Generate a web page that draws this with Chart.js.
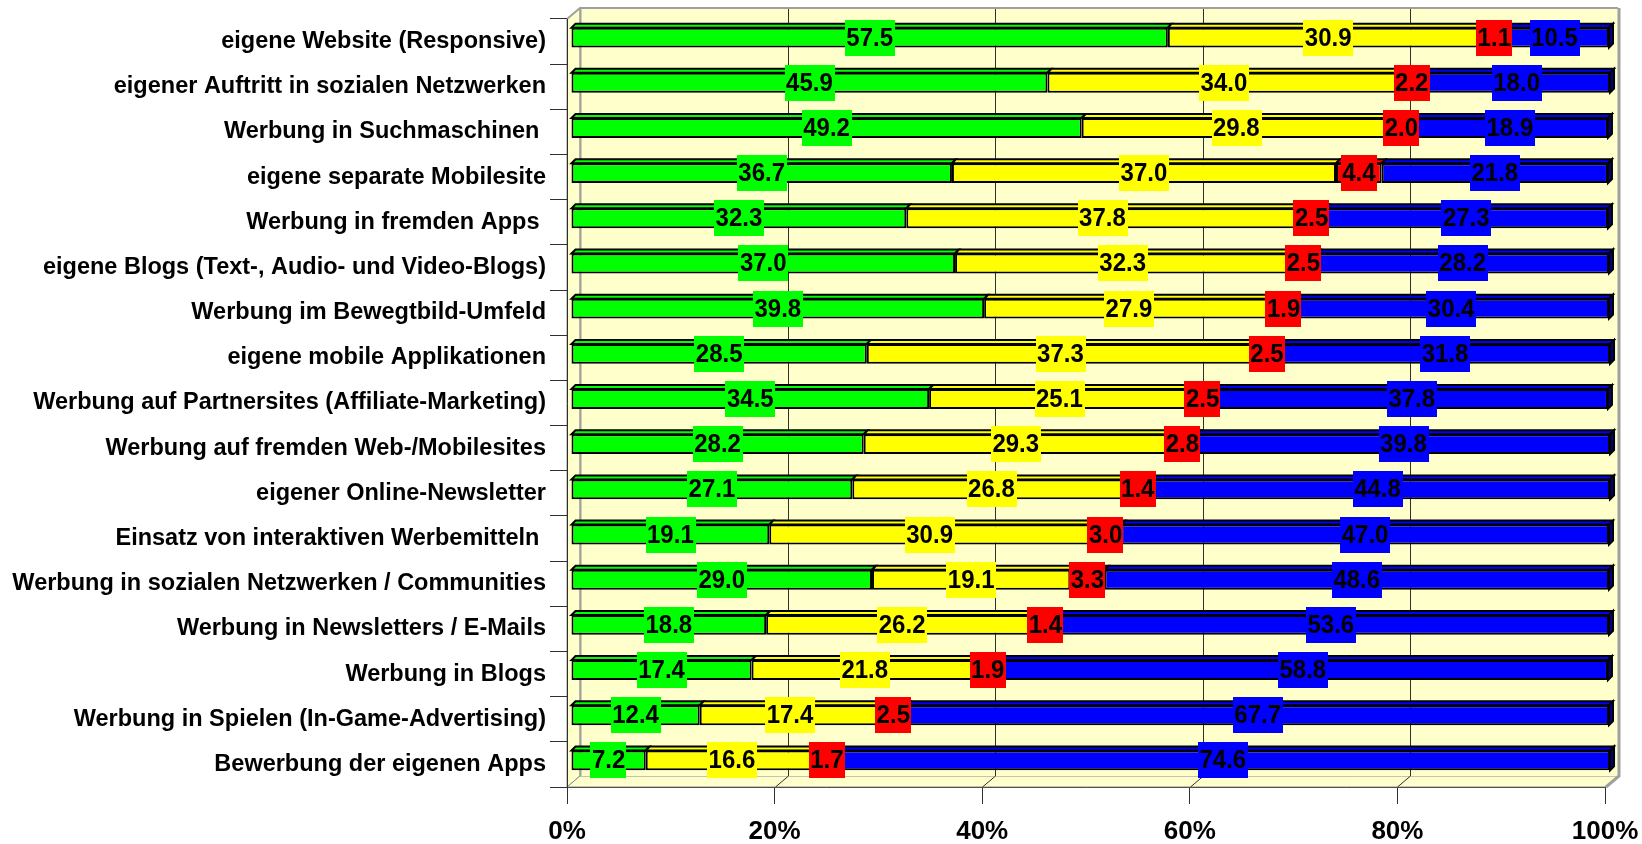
<!DOCTYPE html>
<html>
<head>
<meta charset="utf-8">
<script src="https://cdn.jsdelivr.net/npm/chart.js@4.4.1/dist/chart.umd.min.js"></script>
<style>
  html, body { margin: 0; background: #fff; }
  canvas { display: block; }
</style>
</head>
<body>
<canvas id="chart" width="1642" height="844"></canvas>
<script>
const categories = [
  "eigene Website (Responsive)",
  "eigener Auftritt in sozialen Netzwerken",
  "Werbung in Suchmaschinen ",
  "eigene separate Mobilesite",
  "Werbung in fremden Apps ",
  "eigene Blogs (Text-, Audio- und Video-Blogs)",
  "Werbung im Bewegtbild-Umfeld",
  "eigene mobile Applikationen",
  "Werbung auf Partnersites (Affiliate-Marketing)",
  "Werbung auf fremden Web-/Mobilesites",
  "eigener Online-Newsletter",
  "Einsatz von interaktiven Werbemitteln ",
  "Werbung in sozialen Netzwerken / Communities",
  "Werbung in Newsletters / E-Mails",
  "Werbung in Blogs",
  "Werbung in Spielen (In-Game-Advertising)",
  "Bewerbung der eigenen Apps",
];
const greenValues  = [57.5, 45.9, 49.2, 36.7, 32.3, 37.0, 39.8, 28.5, 34.5, 28.2, 27.1, 19.1, 29.0, 18.8, 17.4, 12.4, 7.2];
const yellowValues = [30.9, 34.0, 29.8, 37.0, 37.8, 32.3, 27.9, 37.3, 25.1, 29.3, 26.8, 30.9, 19.1, 26.2, 21.8, 17.4, 16.6];
const redValues    = [1.1, 2.2, 2.0, 4.4, 2.5, 2.5, 1.9, 2.5, 2.5, 2.8, 1.4, 3.0, 3.3, 1.4, 1.9, 2.5, 1.7];
const blueValues   = [10.5, 18.0, 18.9, 21.8, 27.3, 28.2, 30.4, 31.8, 37.8, 39.8, 44.8, 47.0, 48.6, 53.6, 58.8, 67.7, 74.6];
const xTickValues = [0, 20, 40, 60, 80, 100];
const xTickLabels = ["0%", "20%", "40%", "60%", "80%", "100%"];

const FONT = '"Liberation Sans", Arial, sans-serif';
const WALL_DX = 13, WALL_DY = 11;   // depth of the back wall
const BAR_D = 4;                     // bar offset / top face depth

function poly(ctx, pts) {
  ctx.beginPath();
  ctx.moveTo(pts[0][0], pts[0][1]);
  for (let i = 1; i < pts.length; i++) ctx.lineTo(pts[i][0], pts[i][1]);
  ctx.closePath();
}

// walls, floor and the grid on the back wall
const walls = {
  id: "walls",
  beforeDraw(chart) {
    const { ctx, chartArea: a, scales: { x } } = chart;
    const bl = a.left + WALL_DX, bt = a.top - WALL_DY, br = a.right + WALL_DX, bb = a.bottom - WALL_DY;
    ctx.save();
    ctx.fillStyle = "#ffffcc";
    ctx.strokeStyle = "#8c8c8c";
    ctx.lineWidth = 1;
    poly(ctx, [[a.left, a.top], [bl, bt], [bl, bb], [a.left, a.bottom]]);
    ctx.fill(); ctx.stroke();
    poly(ctx, [[a.left, a.bottom], [bl, bb], [br, bb], [a.right, a.bottom]]);
    ctx.fill(); ctx.stroke();
    ctx.fillRect(bl, bt, br - bl, bb - bt);

    ctx.strokeStyle = "#303030";
    xTickValues.slice(1, -1).forEach((v) => {
      const px = Math.round(x.getPixelForValue(v)) + 0.5;
      ctx.beginPath();
      ctx.moveTo(px + WALL_DX, bt);
      ctx.lineTo(px + WALL_DX, bb);
      ctx.lineTo(px, a.bottom);
      ctx.stroke();
    });

    ctx.strokeStyle = "#a0a0a0";
    ctx.lineWidth = 2;
    ctx.beginPath();
    ctx.moveTo(a.left, a.top); ctx.lineTo(bl, bt); ctx.lineTo(br, bt);
    ctx.stroke();
    ctx.beginPath();
    ctx.moveTo(bl + 0.5, bt); ctx.lineTo(bl + 0.5, bb);
    ctx.stroke();
    ctx.lineWidth = 3;
    ctx.beginPath();
    ctx.moveTo(br + 1, bt); ctx.lineTo(br + 1, bb); ctx.lineTo(a.right + 1, a.bottom);
    ctx.stroke();
    ctx.restore();
  },
};

// push the bars slightly back, add top/end faces and the boxed value labels
const bars3d = {
  id: "bars3d",
  beforeDatasetsDraw(chart) {
    chart.ctx.save();
    chart.ctx.translate(BAR_D, -BAR_D);
  },
  afterDatasetsDraw(chart) {
    const ctx = chart.ctx;
    const last = chart.data.datasets.length - 1;
    ctx.lineWidth = 2;
    ctx.strokeStyle = "#000";
    chart.data.datasets.forEach((ds, di) => {
      chart.getDatasetMeta(di).data.forEach((el) => {
        const { x, y, base, height } = el.getProps(["x", "y", "base", "height"], true);
        const l = Math.min(x, base), r = Math.max(x, base), t = y - height / 2, b = y + height / 2;
        ctx.fillStyle = ds.backgroundColor;
        poly(ctx, [[l, t], [l + BAR_D, t - BAR_D], [r + BAR_D, t - BAR_D], [r, t]]);
        ctx.fill(); ctx.stroke();
        if (di === last) {
          ctx.fillStyle = "#000080";
          poly(ctx, [[r, t], [r + BAR_D, t - BAR_D], [r + BAR_D, b - BAR_D], [r, b]]);
          ctx.fill(); ctx.stroke();
        }
      });
    });

    ctx.font = "bold 24px " + FONT;
    ctx.textAlign = "center";
    ctx.textBaseline = "middle";
    chart.data.datasets.forEach((ds, di) => {
      chart.getDatasetMeta(di).data.forEach((el, i) => {
        const { x, y, base } = el.getProps(["x", "y", "base"], true);
        const txt = ds.data[i].toFixed(1);
        const w = ctx.measureText(txt).width + 3;
        const cx = (x + base) / 2;
        ctx.fillStyle = ds.backgroundColor;
        ctx.fillRect(Math.round(cx - w / 2), Math.round(y - 18), Math.round(w), 36);
        ctx.fillStyle = "#000";
        ctx.save();
        ctx.translate(cx, y + 1);
        ctx.scale(1, 1.06);
        ctx.fillText(txt, 0, 0);
        ctx.restore();
      });
    });
    ctx.restore();
  },
};

function series(label, data, color) {
  return {
    label, data,
    backgroundColor: color,
    borderColor: "#000",
    borderWidth: 2,
    borderSkipped: false,
    barPercentage: 0.44,
    categoryPercentage: 1,
    clip: false,
  };
}

new Chart(document.getElementById("chart"), {
  type: "bar",
  data: {
    labels: categories,
    datasets: [
      series("Serie 1", greenValues, "#00ff00"),
      series("Serie 2", yellowValues, "#ffff00"),
      series("Serie 3", redValues, "#ff0000"),
      series("Serie 4", blueValues, "#0000ff"),
    ],
  },
  options: {
    indexAxis: "y",
    responsive: false,
    animation: false,
    layout: { padding: { top: 19, right: 37, left: 0, bottom: 0 } },
    plugins: { legend: { display: false }, tooltip: { enabled: false } },
    scales: {
      x: {
        stacked: true,
        min: 0, max: 100,
        afterFit: (s) => { s.height = 57; s.paddingLeft = 0; s.paddingRight = 0; },
        afterBuildTicks: (s) => { s.ticks = xTickValues.map((v) => ({ value: v })); },
        grid: { drawOnChartArea: false, drawTicks: true, tickLength: 17, color: "#303030" },
        border: { color: "#505050", width: 1 },
        ticks: {
          padding: 12,
          color: "#000",
          font: { family: FONT, size: 26, weight: "bold" },
          callback: (v) => xTickLabels[xTickValues.indexOf(v)],
        },
      },
      y: {
        stacked: true,
        afterFit: (s) => { s.width = 567; s.paddingTop = 0; s.paddingBottom = 0; },
        grid: { drawOnChartArea: false, drawTicks: true, tickLength: 17, color: "#303030" },
        border: { color: "#303030", width: 1 },
        ticks: {
          autoSkip: false,
          padding: 4,
          color: "#000",
          font: { family: FONT, size: 23.5, weight: "bold" },
        },
      },
    },
  },
  plugins: [walls, bars3d],
});
</script>
</body>
</html>
